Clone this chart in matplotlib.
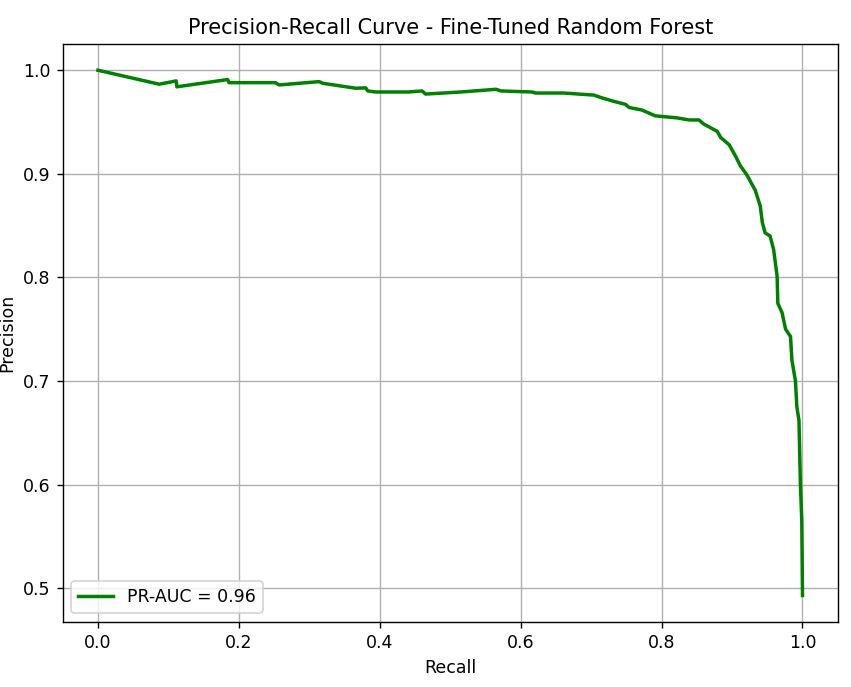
import numpy as np
import matplotlib
matplotlib.use("Agg")
import matplotlib.pyplot as plt

# 곡선 값
recall = [0.0, 0.087, 0.111, 0.112, 0.184, 0.186, 0.252, 0.257, 0.314, 0.319,
          0.366, 0.380, 0.383, 0.394, 0.441, 0.460, 0.465, 0.515, 0.565, 0.572,
          0.616, 0.621, 0.661, 0.704, 0.714, 0.732, 0.749, 0.754, 0.772, 0.791,
          0.822, 0.839, 0.853, 0.860, 0.879, 0.884, 0.896, 0.905, 0.912, 0.921,
          0.933, 0.940, 0.943, 0.947, 0.954, 0.959, 0.964, 0.965, 0.971, 0.976,
          0.983, 0.985, 0.990, 0.992, 0.995, 0.997, 0.999, 1.0]
precision = [1.0, 0.9865, 0.9897, 0.984, 0.991, 0.988, 0.988, 0.9858, 0.989, 0.9874,
             0.9826, 0.983, 0.980, 0.979, 0.979, 0.980, 0.977, 0.979, 0.9816, 0.980,
             0.979, 0.978, 0.978, 0.976, 0.9736, 0.970, 0.967, 0.964, 0.9616, 0.956,
             0.954, 0.952, 0.952, 0.948, 0.941, 0.935, 0.928, 0.917, 0.9075, 0.899,
             0.884, 0.869, 0.853, 0.843, 0.840, 0.827, 0.801, 0.775, 0.766, 0.750,
             0.743, 0.720, 0.700, 0.675, 0.662, 0.601, 0.565, 0.493]
pr_auc = 0.96

fig = plt.figure(figsize=(851 / 125, 687 / 125), dpi=125)
ax = fig.add_axes([0.0737, 0.095, 0.9107, 0.841])
ax.plot(recall, precision, color="green", lw=2, label=f"PR-AUC = {pr_auc:.2f}")
ax.set_xlabel("Recall")
ax.set_ylabel("Precision")
ax.set_title("Precision-Recall Curve - Fine-Tuned Random Forest")
ax.legend(loc="lower left")
ax.grid(True)
fig.savefig("out.png", dpi=125)
plt.close(fig)
